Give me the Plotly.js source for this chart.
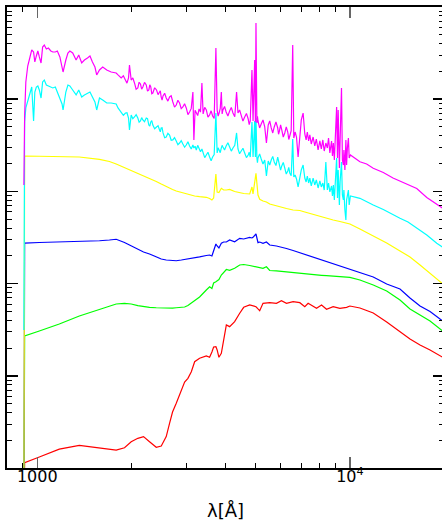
<!DOCTYPE html>
<html>
<head>
<meta charset="utf-8">
<script src="https://cdn.plot.ly/plotly-3.0.1.min.js"></script>
<style>
  html, body { margin: 0; padding: 0; background: #fff; overflow: hidden; }
  #sed { width: 446px; height: 523px; }
</style>
</head>
<body>
<div id="sed"></div>
<script>
// Wavelength grid (Å) for the two youngest spectra, fine enough to keep the nebular lines.
const waveFine = [
  906, 911, 919, 932, 946, 960, 973, 982, 993, 1004,
  1015, 1028, 1040, 1053, 1069, 1085, 1105, 1121, 1142, 1159,
  1181, 1200, 1209, 1234, 1253, 1271, 1298, 1331, 1357, 1387,
  1415, 1447, 1474, 1501, 1529, 1549, 1581, 1619, 1668, 1723,
  1788, 1812,
  1855, 1885, 1915, 1936, 1958, 1972, 1997, 2021, 2046, 2071,
  2097, 2117, 2138, 2157, 2176, 2203, 2231, 2252, 2274, 2290,
  2307, 2324, 2342, 2374, 2407, 2434, 2461, 2475, 2490, 2507,
  2525, 2555, 2585, 2617, 2649, 2681, 2714, 2748, 2783, 2817,
  2852, 2887, 2922, 2959, 2996, 3033, 3070, 3108, 3146, 3169,
  3197, 3226, 3259, 3293, 3327, 3362, 3392, 3432, 3473, 3515,
  3558, 3598, 3638, 3680, 3727, 3761, 3789, 3817, 3848, 3879,
  3902, 3925, 3972, 4019, 4071, 4124, 4175, 4226, 4283, 4340,
  4385, 4437, 4489, 4548, 4607, 4667, 4728, 4764, 4800, 4861,
  4900, 4959, 4985, 5007, 5040, 5061, 5082, 5143, 5204, 5272,
  5340, 5407, 5479, 5540, 5602, 5665, 5728, 5800, 5876, 5913,
  5950, 6002, 6054, 6121, 6189, 6258, 6328, 6375, 6422, 6490,
  6563,
  6615, 6680, 6748, 6828, 6914, 6991, 7085, 7174, 7244, 7308,
  7379, 7444, 7524, 7627, 7720, 7810, 7912, 8014, 8102, 8193,
  8277, 8377, 8470, 8544, 8628, 8737, 8794, 8853, 8918, 9069,
  9126, 9173, 9254, 9303, 9400, 9462, 9532, 9567, 9638, 9709,
  9759, 9817, 9890, 9948, 10037, 10766, 11314, 11877, 12790, 13736,
  14462, 15342, 16363, 17617, 18961, 20000
];

// log10 of the flux (arbitrary units) of the youngest population.
const logFluxMagenta = [
  0.070, 0.829, 1.187, 1.360, 1.447, 1.534, 1.512, 1.404, 1.469, 1.523,
  1.458, 1.393, 1.566, 1.588, 1.545, 1.555, 1.523, 1.512, 1.512, 1.523,
  1.458, 1.349, 1.295, 1.425, 1.501, 1.523, 1.501, 1.425, 1.480, 1.393,
  1.425, 1.447, 1.469, 1.404, 1.349, 1.263, 1.317, 1.349, 1.317, 1.295,
  1.284, 1.263,
  1.230, 1.254, 1.198, 1.174, 1.230, 1.371, 1.208, 1.232, 1.176, 1.109,
  1.122, 1.184, 1.165, 1.109, 1.132, 1.183, 1.154, 1.087, 1.100, 1.156,
  1.132, 1.060, 1.067, 1.124, 1.100, 1.049, 1.078, 1.091, 1.024, 0.990,
  1.035, 1.064, 1.013, 0.979, 1.024, 1.037, 0.970, 0.914, 0.937, 0.988,
  0.959, 0.898, 0.916, 0.951, 0.905, 0.833, 0.861, 0.900, 1.078, 0.558,
  0.880, 0.850, 0.822, 0.894, 0.860, 1.176, 0.840, 0.912, 0.883, 0.806,
  0.829, 0.874, 0.818, 0.790, 1.555, 0.883, 0.817, 0.850, 0.900, 1.078,
  0.840, 0.883, 0.922, 0.861, 0.817, 0.872, 0.911, 0.850, 0.810, 1.078,
  0.850, 0.884, 0.818, 0.763, 0.807, 0.846, 0.785, 0.725, 0.764, 1.317,
  0.764, 1.425, 0.753, 1.827, 0.742, 0.813, 0.764, 0.688, 0.731, 0.775,
  0.699, 0.525, 0.720, 0.764, 0.688, 0.634, 0.699, 0.754, 0.688, 0.620,
  0.655, 0.721, 0.666, 0.590, 0.634, 0.699, 0.644, 0.563, 0.601, 0.660,
  1.588,
  0.579, 0.644, 0.590, 0.373, 0.590, 0.775, 0.850, 0.623, 0.558, 0.644,
  0.547, 0.612, 0.514, 0.590, 0.493, 0.568, 0.449, 0.547, 0.460, 0.558,
  0.438, 0.525, 0.471, 0.579, 0.417, 0.547, 0.384, 0.525, 0.341, 0.916,
  0.362, 0.883, 0.254, 0.503, 1.122, 0.341, 0.286, 0.449, 0.232, 0.558,
  0.286, 0.471, 0.579, 0.362, 0.395, 0.322, 0.297, 0.251, 0.205, 0.145,
  0.113, 0.070, 0.032, -0.066, -0.137, -0.191
];

// log10 of the flux of the second population.
const logFluxCyan = [
  -1.503, 0.753, 0.905, 0.981, 1.046, 1.132, 0.764, 1.078, 1.132, 1.143,
  1.100, 1.013, 1.187, 1.208, 1.154, 1.143, 1.132, 1.122, 1.132, 1.078,
  1.024, 0.948, 0.883, 1.078, 1.154, 1.143, 1.100, 1.046, 1.100, 1.024,
  1.046, 1.067, 1.078, 1.024, 0.970, 0.883, 1.013, 0.991, 0.959, 0.959,
  0.948, 0.905,
  0.861, 0.826, 0.850, 0.853, 0.796, 0.666, 0.829, 0.788, 0.807, 0.832,
  0.796, 0.750, 0.764, 0.800, 0.775, 0.756, 0.796, 0.788, 0.720, 0.707,
  0.753, 0.767, 0.720, 0.680, 0.699, 0.713, 0.666, 0.647, 0.688, 0.691,
  0.634, 0.582, 0.590, 0.631, 0.612, 0.555, 0.558, 0.583, 0.547, 0.506,
  0.525, 0.550, 0.514, 0.479, 0.503, 0.538, 0.493, 0.460, 0.503, 0.471,
  0.490, 0.449, 0.500, 0.471, 0.430, 0.460, 0.417, 0.366, 0.395, 0.424,
  0.373, 0.333, 0.373, 0.400, 0.850, 0.417, 0.473, 0.449, 0.420, 0.471,
  0.500, 0.482, 0.448, 0.493, 0.528, 0.482, 0.437, 0.471, 0.500, 0.634,
  0.460, 0.409, 0.438, 0.468, 0.417, 0.366, 0.395, 0.424, 0.373, 0.753,
  0.373, 0.764, 0.373, 0.796, 0.362, 0.312, 0.362, 0.407, 0.352, 0.297,
  0.341, 0.167, 0.330, 0.286, 0.341, 0.380, 0.319, 0.280, 0.373, 0.330,
  0.286, 0.231, 0.276, 0.315, 0.254, 0.188, 0.221, 0.261, 0.200, 0.170,
  0.568,
  0.156, 0.178, 0.135, 0.048, 0.167, 0.232, 0.286, 0.145, 0.102, 0.167,
  0.091, 0.145, 0.059, 0.145, 0.070, 0.124, 0.037, 0.113, 0.048, 0.091,
  0.015, 0.319, 0.015, 0.091, -0.006, 0.059, -0.050, 0.070, -0.093, 0.362,
  -0.072, 0.232, -0.147, 0.102, 0.319, -0.039, -0.093, 0.015, -0.202, -0.310,
  -0.093, -0.039, 0.015, -0.147, -0.050, -0.075, -0.115, -0.147, -0.196, -0.256,
  -0.292, -0.332, -0.397, -0.473, -0.563, -0.614
];

// Coarser wavelength grid (Å) for the four older, smoother spectra.
const waveCoarse = [
  906, 911, 1015, 1176, 1363, 1581, 1701, 1788, 1901, 1997,
  2097, 2187, 2286, 2402, 2492, 2585, 2649, 2708, 2783, 2889,
  2960, 3033, 3110, 3187, 3305, 3473, 3558, 3619, 3665, 3727,
  3761, 3811, 3879, 3946, 4025, 4124, 4279, 4441, 4573, 4780,
  4861, 4898, 5007, 5082, 5146, 5273, 5407, 5541, 5821, 6040,
  6268, 6580, 6914, 7174, 7351, 7627, 7821, 8115, 8420, 8840,
  9288, 9760, 10000, 10766, 11877, 13113, 14462, 15569, 16762, 18045,
  20000
];

const logFluxYellow = [
  -3.5, 0.384, 0.381, 0.379, 0.373, 0.348, 0.324, 0.297, 0.259, 0.227,
  0.196, 0.173, 0.142, 0.108, 0.080, 0.051, 0.037, 0.021, 0.004, -0.012,
  -0.023, -0.034, -0.044, -0.050, -0.057, -0.064, -0.077, -0.093, -0.072, 0.189,
  -0.006, -0.012, 0.034, 0.015, 0.015, 0.021, -0.001, -0.017, -0.023, -0.028,
  0.048, -0.028, 0.196, -0.039, -0.086, -0.104, -0.115, -0.137, -0.153, -0.169,
  -0.185, -0.202, -0.207, -0.223, -0.234, -0.248, -0.261, -0.278, -0.292, -0.310,
  -0.326, -0.343, -0.354, -0.408, -0.484, -0.560, -0.646, -0.711, -0.798, -0.885,
  -1.015
];

const logFluxBlue = [
  -3.5, -0.560, -0.554, -0.549, -0.538, -0.535, -0.527, -0.519, -0.554, -0.592,
  -0.625, -0.657, -0.679, -0.711, -0.733, -0.744, -0.749, -0.752, -0.752, -0.744,
  -0.739, -0.733, -0.730, -0.722, -0.711, -0.695, -0.690, -0.701, -0.636, -0.570,
  -0.592, -0.614, -0.563, -0.549, -0.549, -0.527, -0.546, -0.509, -0.516, -0.498,
  -0.505, -0.498, -0.462, -0.556, -0.549, -0.563, -0.549, -0.581, -0.592, -0.603,
  -0.619, -0.641, -0.665, -0.684, -0.695, -0.711, -0.726, -0.744, -0.760, -0.780,
  -0.809, -0.831, -0.845, -0.880, -0.928, -1.004, -1.059, -1.156, -1.243, -1.303,
  -1.416
];

const logFluxGreen = [
  -3.5, -1.568, -1.514, -1.438, -1.351, -1.279, -1.243, -1.221, -1.214, -1.221,
  -1.238, -1.248, -1.257, -1.262, -1.265, -1.265, -1.265, -1.265, -1.262, -1.259,
  -1.254, -1.238, -1.210, -1.183, -1.145, -1.069, -1.034, -1.053, -0.993, -0.979,
  -0.972, -0.956, -0.907, -0.874, -0.847, -0.856, -0.834, -0.798, -0.793, -0.804,
  -0.809, -0.817, -0.820, -0.825, -0.831, -0.834, -0.817, -0.858, -0.863, -0.869,
  -0.871, -0.880, -0.888, -0.896, -0.899, -0.903, -0.907, -0.910, -0.914, -0.918,
  -0.923, -0.928, -0.932, -0.961, -1.015, -1.080, -1.178, -1.275, -1.341, -1.406,
  -1.525
];

const logFluxRed = [
  -3.5, -2.942, -2.881, -2.796, -2.754, -2.786, -2.797, -2.805, -2.780, -2.715,
  -2.678, -2.660, -2.715, -2.775, -2.761, -2.660, -2.515, -2.393, -2.298, -2.154,
  -2.067, -2.027, -1.956, -1.847, -1.810, -1.785, -1.799, -1.742, -1.688, -1.684,
  -1.720, -1.799, -1.756, -1.612, -1.449, -1.467, -1.413, -1.322, -1.257, -1.232,
  -1.238, -1.243, -1.251, -1.275, -1.294, -1.214, -1.210, -1.207, -1.214, -1.185,
  -1.214, -1.196, -1.207, -1.251, -1.214, -1.251, -1.268, -1.232, -1.279, -1.251,
  -1.268, -1.257, -1.243, -1.265, -1.319, -1.416, -1.525, -1.601, -1.666, -1.720,
  -1.807
];

// Axis ticks
const xTickVals = [1000, 10000];
const xTickText = ['1000', '10<sup>4</sup>'];
const xMinorVals = [900, 2000, 3000, 4000, 5000, 6000, 7000, 8000, 9000, 20000];
const yDecades = [-3, -2, -1, 0, 1, 2];

const yMajorVals = yDecades.map(d => Math.pow(10, d));
const yMinorVals = [];
yDecades.slice(0, -1).forEach(d => {
  for (let k = 2; k <= 9; k++) yMinorVals.push(k * Math.pow(10, d));
});

const toLinear = v => Math.pow(10, v);

// Drawn oldest first so the young spectra sit on top.
const series = [
  { wave: waveCoarse, logF: logFluxRed,     color: 'rgb(255,0,0)' },
  { wave: waveCoarse, logF: logFluxGreen,   color: 'rgb(0,255,0)' },
  { wave: waveCoarse, logF: logFluxBlue,    color: 'rgb(0,0,255)' },
  { wave: waveCoarse, logF: logFluxYellow,  color: 'rgb(255,255,0)' },
  { wave: waveFine,   logF: logFluxCyan,    color: 'rgb(0,255,255)' },
  { wave: waveFine,   logF: logFluxMagenta, color: 'rgb(255,0,255)' }
];

const traces = series.map(s => ({
  type: 'scatter',
  mode: 'lines',
  x: s.wave,
  y: s.logF.map(toLinear),
  line: { color: s.color, width: 1.2 },
  hoverinfo: 'skip'
}));

const font = { family: 'DejaVu Sans', color: '#000' };

const layout = {
  width: 446,
  height: 523,
  margin: { l: 7, r: 2, t: 7, b: 55 },
  paper_bgcolor: '#fff',
  plot_bgcolor: '#fff',
  showlegend: false,
  hovermode: false,
  font: font,
  xaxis: {
    type: 'log',
    range: [Math.log10(800), Math.log10(20000)],
    tickmode: 'array',
    tickvals: xTickVals,
    ticktext: xTickText,
    ticks: 'inside',
    ticklen: 11,
    tickwidth: 1.5,
    tickcolor: '#666',
    tickfont: { family: 'DejaVu Sans', size: 16, color: '#000' },
    ticklabelstandoff: -7,
    showline: true,
    linecolor: '#000',
    linewidth: 2,
    mirror: 'allticks',
    showgrid: false,
    zeroline: false,
    minor: {
      tickmode: 'array',
      tickvals: xMinorVals,
      ticks: 'inside',
      ticklen: 5,
      tickwidth: 1,
      tickcolor: '#000',
      showgrid: false
    },
    title: { text: 'λ[Å]', font: { family: 'DejaVu Sans', size: 18, color: '#000' }, standoff: 19 }
  },
  yaxis: {
    type: 'log',
    range: [-3, 2],
    tickmode: 'array',
    tickvals: yMajorVals,
    showticklabels: false,
    ticks: 'inside',
    ticklen: 11,
    tickwidth: 1.5,
    tickcolor: '#000',
    showline: true,
    linecolor: '#000',
    linewidth: 2,
    mirror: 'allticks',
    showgrid: false,
    zeroline: false,
    minor: {
      tickmode: 'array',
      tickvals: yMinorVals,
      ticks: 'inside',
      ticklen: 5,
      tickwidth: 1,
      tickcolor: '#000',
      showgrid: false
    }
  }
};

Plotly.newPlot('sed', traces, layout, { staticPlot: true, displayModeBar: false });
</script>
</body>
</html>
